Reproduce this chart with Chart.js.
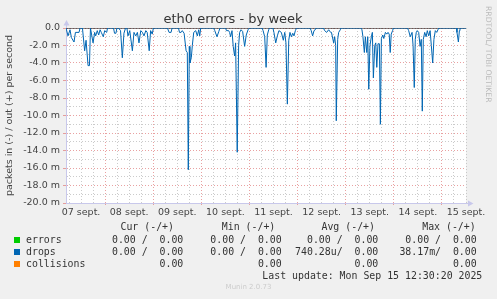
<!DOCTYPE html>
<html>
<head>
<meta charset="utf-8">
<script src="https://cdn.jsdelivr.net/npm/chart.js@4.4.1/dist/chart.umd.min.js"></script>
<style>
  html, body { margin: 0; padding: 0; background: #f0f0f0; }
  #wrap { position: relative; width: 497px; height: 299px; overflow: hidden; }
  #chart { position: absolute; left: 0; top: 0; }
  .t { position: absolute; font-family: 'DejaVu Sans Mono', monospace; font-size: 9.9px; line-height: 12px; color: #333; white-space: pre; }
  .sq { position: absolute; width: 6px; height: 6px; }
  #rrd { position: absolute; left: 483px; top: 6px; font-family: 'DejaVu Sans', sans-serif; font-size: 7.7px; color: #bbb;
         transform-origin: 0 0; transform: translate(10px, 0) rotate(90deg); white-space: nowrap; }
  #munin { position: absolute; left: 0; width: 497px; top: 283px; text-align: center; font-family: 'DejaVu Sans', sans-serif; font-size: 7px; color: #ccc; }
</style>
</head>
<body>
<div id="wrap">
  <canvas id="chart" width="497" height="299"></canvas>
  <div id="rrd">RRDTOOL/ TOBI OETIKER</div>
  <div id="legend"></div>
  <div id="munin">Munin 2.0.73</div>
</div>
<script>
// x axis: hours since 07 sept 00:00
const xMin = 4.5;
const xMax = 204.0;
const dayLabels = ['07 sept.', '08 sept.', '09 sept.', '10 sept.', '11 sept.', '12 sept.', '13 sept.', '14 sept.', '15 sept.'];

// drops, in direction (milli packets per second)
const dropsHours = [
  4.5, 5.5, 6.5, 7.2, 8.5, 9.2, 11.0, 11.5,
  12.7, 13.8, 14.5, 15.5, 16.2, 16.7, 18.0, 18.8, 19.3, 20.1, 20.8, 21.5, 22.1, 23.1, 23.8, 24.8, 25.2,
  28.2, 28.7, 29.4, 29.9,
  30.7, 31.7, 32.6, 33.4, 34.2, 34.9, 35.4, 36.3, 37.6, 38.4, 39.3, 40.1, 40.9, 41.8, 42.6, 43.4, 44.3, 45.0, 46.0, 46.7, 47.5, 48.1,
  55.1, 55.9, 56.9, 57.4,
  60.6, 61.1, 61.9, 62.5, 63.4, 64.4, 65.0, 65.5, 66.0, 66.3, 67.0, 67.5, 68.2, 69.2, 70.0, 70.7, 71.2, 71.7,
  78.1, 78.7, 79.8, 80.7, 81.3,
  84.1, 84.5, 85.6, 86.1, 86.6, 87.3, 87.9, 88.6, 89.1, 89.9, 90.6, 91.1, 91.8, 92.6, 93.6, 94.4, 95.3, 96.0,
  102.3, 102.8, 103.6, 104.3, 104.9, 105.6, 106.0,
  107.7, 108.2, 109.1, 109.9, 110.7, 111.9, 112.9, 113.6, 114.2, 114.9, 115.6, 116.2, 116.9, 117.6, 118.2, 118.9, 119.5,
  126.2, 126.8, 127.5, 128.2, 128.8, 129.2,
  132.9, 133.5, 134.5, 135.5, 136.5, 136.9, 138.0, 138.5, 139.0, 139.3, 140.0, 140.5, 141.3, 141.7,
  151.6, 152.1, 152.6, 153.3, 153.8, 154.5, 155.0, 155.5, 156.1, 156.8, 157.3, 157.8, 158.5, 159.0, 159.5,
  160.1, 160.8, 161.3, 161.8, 162.5, 163.0, 163.8, 164.5, 165.1, 165.7, 166.2, 166.7, 167.4, 167.8,
  174.8, 175.4, 176.2, 177.1, 177.6, 178.2, 178.7, 179.2, 179.7, 180.4, 181.1, 181.7, 182.2, 182.7, 183.4,
  184.1, 184.7, 185.4, 186.1, 186.7, 187.4, 188.0, 188.7, 189.4, 190.0, 190.5,
  199.3, 199.5, 200.2, 200.7, 201.0, 204.0
];
const dropsIn = [
  0, 0.9, 0.2, 1.1, 1.6, 0.5, 0.5, 0,
  0, 2.6, 1.4, 4.3, 4.3, 0, 1.7, 0.5, 0.9, 0.3, 0.8, 0.2, 0.5, 1.0, 0.3, 0.5, 0,
  0, 0.6, 0.6, 0,
  0, 0.3, 3.4, 0.6, 0, 0, 0.9, 0.3, 2.6, 0.5, 0.9, 0.5, 1.7, 0.3, 0.5, 0.9, 0.3, 0.5, 2.6, 0.3, 0.7, 0,
  0, 0.5, 0.5, 0,
  0, 0.5, 0.5, 0.3, 0.6, 2.6, 2.8, 16.2, 2.1, 4.0, 3.4, 2.0, 0.5, 0.3, 0.9, 0.2, 0.9, 0,
  0, 0.3, 1.0, 0.4, 0,
  0, 0.3, 0.3, 0.5, 1.0, 0.3, 2.1, 3.2, 1.7, 14.2, 2.0, 0.5, 0.2, 0.4, 2.1, 0.8, 0.2, 0,
  0, 0.3, 1.0, 4.5, 0.8, 0.2, 0,
  0, 0.5, 1.7, 0.9, 0.3, 0.5, 1.4, 0.5, 1.7, 8.7, 1.4, 0.5, 1.0, 0.6, 0.9, 0.3, 0,
  0, 0.3, 0.9, 0.3, 0.2, 0,
  0, 0.3, 0.5, 0.2, 0.5, 0.5, 1.7, 1.0, 2.0, 10.6, 1.3, 0.5, 0.2, 0,
  0, 0.2, 1.0, 2.8, 1.0, 2.8, 1.0, 7.0, 2.0, 1.0, 0.5, 5.7, 2.0, 1.7, 4.5,
  1.8, 1.8, 11.0, 1.2, 0.8, 1.2, 0.5, 0.7, 0.5, 0.7, 2.8, 0.7, 0.3, 0,
  0, 0.3, 1.0, 0.5, 2.0, 6.8, 1.3, 0.5, 0.3, 0.5, 2.1, 1.3, 9.5, 1.3, 0.5,
  1.0, 0.3, 0.9, 0.3, 2.0, 4.0, 1.3, 0.3, 0.5, 0.2, 0,
  0, 0.5, 1.6, 0.3, 0, 0
];
const zeroRule = [0, 0];

// legend table
const legendNames = ['errors', 'drops', 'collisions'];
const legendColors = ['#00cc00', '#0066b3', '#ff8000'];
const curCol = ['0.00 /  0.00', '0.00 /  0.00', '0.00'];
const minCol = ['0.00 /  0.00', '0.00 /  0.00', '0.00'];
const avgCol = ['0.00 /  0.00', '740.28u/  0.00', '0.00'];
const maxCol = ['0.00 /  0.00', '38.17m/  0.00', '0.00'];
const lastUpdate = 'Last update: Mon Sep 15 12:30:20 2025';

const redGrid = 'rgba(225, 130, 130, 0.75)';
const greyGrid = 'rgba(190, 190, 190, 0.8)';
const axisColor = 'rgb(200, 200, 235)';

function buildLegend() {
  const box = document.getElementById('legend');
  let html = '';
  const txt = (s, right, top) => `<div class="t" style="right:${right}px;top:${top}px">${s}</div>`;
  html += txt('Cur (-/+)', 323, 221) + txt('Min (-/+)', 221.7, 221) + txt('Avg (-/+)', 122, 221) + txt('Max (-/+)', 21.3, 221);
  legendNames.forEach((name, i) => {
    const top = 234 + i * 12;
    html += `<div class="sq" style="left:14px;top:${top + 3}px;background:${legendColors[i]}"></div>`;
    html += `<div class="t" style="left:26px;top:${top}px">${name}</div>`;
    html += txt(curCol[i], 313.7, top) + txt(minCol[i], 215.3, top) + txt(avgCol[i], 118.7, top) + txt(maxCol[i], 20.3, top);
  });
  html += txt(lastUpdate, 14.7, 270);
  box.innerHTML = html;
}
buildLegend();

const muninFrame = {
  id: 'muninFrame',
  beforeDraw(chart) {
    const { ctx, chartArea: a } = chart;
    ctx.save();
    ctx.fillStyle = '#ffffff';
    ctx.fillRect(a.left, a.top, a.right - a.left, a.bottom - a.top);
    ctx.restore();
  },
  afterDraw(chart) {
    const { ctx, chartArea: a } = chart;
    const x0 = Math.round(a.left) + 0.5;
    const y0 = Math.round(a.bottom) + 0.5;
    ctx.save();
    ctx.strokeStyle = axisColor;
    ctx.fillStyle = axisColor;
    ctx.lineWidth = 1;
    ctx.beginPath();
    ctx.moveTo(x0, a.top);
    ctx.lineTo(x0, a.top - 3);
    ctx.moveTo(a.right, y0);
    ctx.lineTo(a.right + 3, y0);
    ctx.stroke();
    // arrow heads
    ctx.beginPath();
    ctx.moveTo(x0 - 3, a.top - 2.5);
    ctx.lineTo(x0 + 3, a.top - 2.5);
    ctx.lineTo(x0, a.top - 8);
    ctx.closePath();
    ctx.fill();
    ctx.beginPath();
    ctx.moveTo(a.right + 2, y0 - 3);
    ctx.lineTo(a.right + 2, y0 + 3);
    ctx.lineTo(a.right + 7.5, y0);
    ctx.closePath();
    ctx.fill();
    ctx.restore();
  }
};

Chart.defaults.font.family = "'DejaVu Sans', sans-serif";

const hourTicks = [];
for (let h = 6; h <= xMax; h += 6) hourTicks.push(h);

new Chart(document.getElementById('chart'), {
  type: 'line',
  data: {
    datasets: [
      {
        label: 'drops',
        data: dropsHours.map((h, i) => ({ x: h, y: -dropsIn[i] })),
        borderColor: '#0066b3',
        borderWidth: 1,
        pointRadius: 0,
        tension: 0,
        fill: false
      },
      {
        label: 'zero',
        data: [{ x: xMin, y: zeroRule[0] }, { x: xMax, y: zeroRule[1] }],
        borderColor: '#000000',
        borderWidth: 1,
        pointRadius: 0,
        fill: false
      }
    ]
  },
  options: {
    responsive: false,
    animation: false,
    events: [],
    layout: { padding: { left: 0, right: 31, top: 0, bottom: 76 } },
    plugins: {
      legend: { display: false },
      tooltip: { enabled: false },
      title: {
        display: true,
        text: 'eth0 errors - by week',
        color: '#333',
        font: { size: 13, weight: 'normal' },
        padding: { top: 12, bottom: 0.4 }
      }
    },
    scales: {
      x: {
        type: 'linear',
        min: xMin,
        max: xMax,
        afterBuildTicks: axis => { axis.ticks = hourTicks.map(v => ({ value: v })); },
        afterFit: axis => { axis.height = 20; },
        ticks: {
          autoSkip: false,
          maxRotation: 0,
          padding: 2,
          color: '#444',
          font: { size: 9.5 },
          callback: v => (v % 24 === 12 ? dayLabels[(v - 12) / 24] : '')
        },
        grid: {
          color: c => (c.tick && c.tick.value % 24 === 0 ? redGrid : greyGrid),
          tickColor: c => (c.tick && c.tick.value % 24 === 0 ? redGrid : 'rgba(0,0,0,0)'),
          tickLength: 2,
          lineWidth: 1
        },
        border: { color: axisColor, dash: [1, 2] }
      },
      y: {
        min: -20,
        max: 0,
        afterFit: axis => { axis.width = 66; },
        ticks: {
          stepSize: 1,
          autoSkip: false,
          padding: 3,
          color: '#444',
          font: { size: 9.5 },
          callback: v => (v % 2 !== 0 ? '' : (v === 0 ? '0.0' : v.toFixed(1) + ' m'))
        },
        grid: {
          color: c => (c.tick && c.tick.value % 2 === 0 ? redGrid : greyGrid),
          tickColor: c => (c.tick && c.tick.value % 2 === 0 ? redGrid : 'rgba(0,0,0,0)'),
          tickLength: 3,
          lineWidth: 1
        },
        border: { color: axisColor, dash: [1, 2] },
        title: {
          display: true,
          text: 'packets in (-) / out (+) per second',
          color: '#444',
          font: { size: 9.5 },
          padding: { top: 4, bottom: 0 }
        }
      }
    }
  },
  plugins: [muninFrame]
});
</script>
</body>
</html>
